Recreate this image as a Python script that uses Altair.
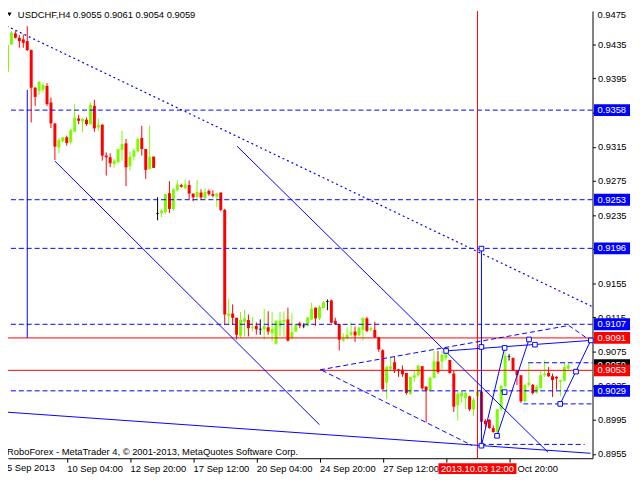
import altair as alt
import pandas as pd

symbol = "USDCHF,H4"

opens = [0.93953, 0.94031, 0.94350, 0.94478, 0.94428, 0.94408, 0.94389, 0.94284, 0.93842, 0.93805,
         0.93817, 0.93863, 0.93669, 0.93424, 0.93144, 0.93214, 0.93261, 0.93202, 0.93327, 0.93482,
         0.93447, 0.93467, 0.93416, 0.93630, 0.93377, 0.93408, 0.93047, 0.93027, 0.92949, 0.92969,
         0.93113, 0.93190, 0.92922, 0.93035, 0.93097, 0.93253, 0.93124, 0.92891, 0.93035, 0.92370,
         0.92373, 0.92384, 0.92606, 0.92422, 0.92641, 0.92702, 0.92664, 0.92702, 0.92602, 0.92564,
         0.92614, 0.92549, 0.92633, 0.92595, 0.92564, 0.92614, 0.92411, 0.91165, 0.91196, 0.91146,
         0.90936, 0.91100, 0.91120, 0.91031, 0.91051, 0.91012, 0.91012, 0.91035, 0.90966, 0.90844,
         0.91043, 0.91100, 0.91127, 0.90909, 0.90985, 0.91081, 0.91051, 0.91051, 0.91127, 0.91265,
         0.91139, 0.91261, 0.91338, 0.91349, 0.91108, 0.91073, 0.90878, 0.90909, 0.90947, 0.90985,
         0.90939, 0.91004, 0.91139, 0.91004, 0.91004, 0.90920, 0.90766, 0.90385, 0.90549, 0.90625,
         0.90541, 0.90538, 0.90499, 0.90252, 0.90446, 0.90473, 0.90579, 0.90340, 0.90294, 0.90442,
         0.90633, 0.90633, 0.90674, 0.90652, 0.90492, 0.90119, 0.90226, 0.90206, 0.90226, 0.90073,
         0.90226, 0.90283, 0.89940, 0.89952, 0.89853, 0.89807, 0.90073, 0.90347, 0.90690, 0.90674,
         0.90530, 0.90473, 0.90168, 0.90359, 0.90359, 0.90271, 0.90321, 0.90473, 0.90499, 0.90461,
         0.90454, 0.90397, 0.90408, 0.90550]
highs = [0.94147, 0.94350, 0.94505, 0.94505, 0.94459, 0.94466, 0.94564, 0.94291, 0.93852, 0.93922,
         0.93902, 0.93895, 0.93727, 0.93424, 0.93253, 0.93268, 0.93280, 0.93358, 0.93650, 0.93525,
         0.93486, 0.93494, 0.93669, 0.93700, 0.93482, 0.93416, 0.93085, 0.93074, 0.93008, 0.93124,
         0.93338, 0.93241, 0.93093, 0.93132, 0.93261, 0.93397, 0.93124, 0.93397, 0.93035, 0.92560,
         0.92422, 0.92602, 0.92748, 0.92664, 0.92756, 0.92717, 0.92767, 0.92756, 0.92602, 0.92760,
         0.92652, 0.92664, 0.92652, 0.92641, 0.92614, 0.92614, 0.92422, 0.91369, 0.91303, 0.91146,
         0.91215, 0.91235, 0.91185, 0.91158, 0.91093, 0.91127, 0.91254, 0.91223, 0.91215, 0.91120,
         0.91215, 0.91223, 0.91265, 0.91196, 0.91070, 0.91100, 0.91081, 0.91158, 0.91323, 0.91265,
         0.91292, 0.91338, 0.91361, 0.91361, 0.91146, 0.91073, 0.90966, 0.91035, 0.91093, 0.91043,
         0.91043, 0.91150, 0.91158, 0.91043, 0.91100, 0.90920, 0.90777, 0.90587, 0.90682, 0.90690,
         0.90549, 0.90587, 0.90499, 0.90454, 0.90530, 0.90595, 0.90579, 0.90340, 0.90454, 0.90758,
         0.90758, 0.90758, 0.90739, 0.90652, 0.90530, 0.90283, 0.90286, 0.90283, 0.90233, 0.90206,
         0.90302, 0.90283, 0.89959, 0.89959, 0.89883, 0.90081, 0.90359, 0.90804, 0.90720, 0.90682,
         0.90530, 0.90473, 0.90370, 0.90625, 0.90370, 0.90359, 0.90522, 0.90644, 0.90568, 0.90492,
         0.90461, 0.90423, 0.90625, 0.90610]
lows = [0.93603, 0.94019, 0.94342, 0.94420, 0.94311, 0.94311, 0.94272, 0.93436, 0.93630, 0.93758,
        0.93786, 0.93630, 0.93369, 0.92996, 0.93074, 0.93202, 0.93163, 0.93175, 0.93327, 0.93416,
        0.93319, 0.93397, 0.93408, 0.93327, 0.93338, 0.92988, 0.92813, 0.92910, 0.92903, 0.92961,
        0.92988, 0.92689, 0.92872, 0.92988, 0.93085, 0.93047, 0.92774, 0.92883, 0.92903, 0.92288,
        0.92327, 0.92365, 0.92373, 0.92403, 0.92625, 0.92671, 0.92652, 0.92537, 0.92511, 0.92518,
        0.92526, 0.92537, 0.92576, 0.92557, 0.92442, 0.92396, 0.91062, 0.91062, 0.91062, 0.90890,
        0.90909, 0.90928, 0.90928, 0.90985, 0.90947, 0.90947, 0.90890, 0.90947, 0.90870, 0.90832,
        0.90928, 0.90928, 0.90870, 0.90890, 0.90978, 0.91024, 0.91024, 0.91043, 0.91120, 0.91051,
        0.91120, 0.91254, 0.91235, 0.91081, 0.91062, 0.90763, 0.90863, 0.90890, 0.90928, 0.90863,
        0.90928, 0.90878, 0.90978, 0.90985, 0.90909, 0.90748, 0.90302, 0.90195, 0.90522, 0.90499,
        0.90454, 0.90454, 0.90245, 0.90245, 0.90397, 0.90454, 0.90302, 0.89921, 0.90283, 0.90435,
        0.90492, 0.90538, 0.90644, 0.90492, 0.90043, 0.89940, 0.90149, 0.90073, 0.90054, 0.89997,
        0.90073, 0.89826, 0.89864, 0.89845, 0.89799, 0.89799, 0.90054, 0.90321, 0.90644, 0.90522,
        0.90359, 0.90149, 0.90157, 0.90340, 0.90245, 0.90256, 0.90309, 0.90454, 0.90454, 0.90218,
        0.90302, 0.90226, 0.90397, 0.90540]
closes = [0.94031, 0.94342, 0.94490, 0.94428, 0.94389, 0.94369, 0.94284, 0.93842, 0.93735, 0.93910,
          0.93875, 0.93650, 0.93424, 0.93152, 0.93229, 0.93261, 0.93194, 0.93346, 0.93494, 0.93455,
          0.93478, 0.93416, 0.93642, 0.93366, 0.93408, 0.93047, 0.93027, 0.92957, 0.92988, 0.93124,
          0.93183, 0.92910, 0.93035, 0.93105, 0.93241, 0.93124, 0.92879, 0.93035, 0.92903, 0.92370,
          0.92403, 0.92595, 0.92422, 0.92652, 0.92710, 0.92683, 0.92710, 0.92602, 0.92557, 0.92622,
          0.92557, 0.92622, 0.92595, 0.92576, 0.92602, 0.92411, 0.91185, 0.91196, 0.91146, 0.90947,
          0.91120, 0.91139, 0.91024, 0.91043, 0.91012, 0.91012, 0.91051, 0.90985, 0.91016, 0.91108,
          0.91112, 0.91120, 0.90878, 0.90978, 0.91062, 0.91054, 0.91051, 0.91150, 0.91254, 0.91139,
          0.91273, 0.91330, 0.91338, 0.91089, 0.91073, 0.90890, 0.90901, 0.90947, 0.90978, 0.90939,
          0.91031, 0.91146, 0.90993, 0.91024, 0.90916, 0.90775, 0.90309, 0.90568, 0.90576, 0.90538,
          0.90522, 0.90484, 0.90264, 0.90454, 0.90473, 0.90587, 0.90321, 0.90294, 0.90442, 0.90636,
          0.90511, 0.90713, 0.90720, 0.90499, 0.90104, 0.90256, 0.90271, 0.90264, 0.90073, 0.90187,
          0.90283, 0.89929, 0.89902, 0.89853, 0.89807, 0.90073, 0.90347, 0.90701, 0.90690, 0.90530,
          0.90473, 0.90168, 0.90359, 0.90385, 0.90264, 0.90340, 0.90473, 0.90492, 0.90461, 0.90416,
          0.90435, 0.90416, 0.90568, 0.90590]

xtick_pos = [0, 16, 32, 48, 64, 80, 96, 112, 128]
xtick_labels = ["5 Sep 2013", "10 Sep 04:00", "12 Sep 20:00", "17 Sep 12:00", "20 Sep 04:00",
                "24 Sep 20:00", "27 Sep 12:00", "2 Oct 04:00", "4 Oct 20:00"]
ytick_values = [0.9475, 0.9435, 0.9395, 0.9355, 0.9315, 0.9275, 0.9235, 0.9195,
                0.9155, 0.9115, 0.9075, 0.9035, 0.8995, 0.8955]

blue_levels = [0.9358, 0.9253, 0.9196, 0.9107, 0.9029]
red_levels = [0.9091, 0.9053]
crosshair_bar = [120]
crosshair_label = ["2013.10.03 12:00"]

tag_prices = [0.9358, 0.9253, 0.9196, 0.9107, 0.9091, 0.9059, 0.9053, 0.9029]
tag_kinds = ["blue", "blue", "blue", "blue", "red", "black", "red", "blue"]

solid_x1 = [6, 13, 59.125, -0.375, 112.05, 121, 121, 124.95, 140.95]
solid_y1 = [0.93816, 0.92983, 0.93157, 0.90044, 0.90758, 0.91957, 0.89647, 0.89763, 0.90137]
solid_x2 = [6, 80, 137.875, 148.625, 148.7, 121, 126.875, 133.05, 148.7]
solid_y2 = [0.9091, 0.89893, 0.89570, 0.89558, 0.90881, 0.89647, 0.90793, 0.90892, 0.90881]

dashed_x1 = [80.125, 143.125, 80.625, 120.875, 132.875, 131.625]
dashed_y1 = [0.90536, 0.91056, 0.90530, 0.89662, 0.90619, 0.90137]
dashed_x2 = [143.125, 148.625, 118.625, 147.125, 149.125, 149.125]
dashed_y2 = [0.91056, 0.90877, 0.89650, 0.89662, 0.90619, 0.90137]

dotted_x1 = [-0.375]
dotted_y1 = [0.94591]
dotted_x2 = [149.125]
dotted_y2 = [0.91276]

square_x = [112.05, 121, 121, 124.95, 126.875, 126.875, 133.05, 134.55, 140.95, 144.95, 148.7, 121]
square_y = [0.90758, 0.90804, 0.89647, 0.89763, 0.90793, 0.90275, 0.90892, 0.90831, 0.90137,
            0.90515, 0.90881, 0.91957]

copyright_text = "RoboForex - MetaTrader 4, \u00a9 2001-2013, MetaQuotes Software Corp."

# ---------------------------------------------------------------------------
BLUE = "#0000FF"
RED = "#FF0000"
GREEN = "#7CFC00"
FONT = "Liberation Sans"
FS = 9.5
tag_colors = {"blue": BLUE, "red": RED, "black": "#000000"}

n = len(opens)
candles = pd.DataFrame({"i": list(range(n)), "o": opens, "h": highs, "l": lows, "c": closes})
candles["dir"] = ["up" if c > o else ("down" if c < o else "doji") for o, c in zip(opens, closes)]

X_DOMAIN = [1.125, 149.125]
Y_DOMAIN = [0.8950, 0.94742]
xs = alt.Scale(domain=X_DOMAIN, nice=False, zero=False, padding=0)
ys = alt.Scale(domain=Y_DOMAIN, nice=False, zero=False, padding=0)

label_expr = " : ".join(f"datum.value == {p} ? '{t}'" for p, t in zip(xtick_pos, xtick_labels)) + " : ''"

x_axis = alt.Axis(values=xtick_pos, labelExpr=label_expr, labelAlign="left", labelBaseline="top",
                  labelPadding=1, tickSize=4, tickColor="black", domainColor="black",
                  labelColor="black", labelFont=FONT, labelFontSize=FS, grid=False, title=None,
                  labelFlush=False, labelOverlap=False)
y_axis = alt.Axis(orient="right", values=ytick_values, format=".4f", tickSize=3, labelPadding=2,
                  tickColor="black", domainColor="black", labelColor="black", labelFont=FONT,
                  labelFontSize=FS, grid=False, title=None, labelFlush=False, labelOverlap=False)


def X(f):
    return alt.X(f, type="quantitative", scale=xs, axis=x_axis)


def Y(f):
    return alt.Y(f, type="quantitative", scale=ys, axis=y_axis)


layers = []
for d, col in [("up", GREEN), ("down", RED), ("doji", "#000000")]:
    sub = candles[candles["dir"] == d]
    layers.append(alt.Chart(sub).mark_rule(color=col, strokeWidth=1).encode(
        x=X("i"), y=Y("l"), y2="h"))
    if d != "doji":
        layers.append(alt.Chart(sub).mark_bar(size=3, color=col).encode(x=X("i"), y=Y("o"), y2="c"))
    else:
        layers.append(alt.Chart(sub).mark_tick(orient="horizontal", size=3, thickness=1,
                                               color="#000000").encode(x=X("i"), y=Y("o")))

layers.append(alt.Chart(pd.DataFrame({"p": blue_levels})).mark_rule(
    color=BLUE, strokeDash=[5, 3], strokeWidth=1).encode(y=Y("p")))
layers.append(alt.Chart(pd.DataFrame({"p": red_levels})).mark_rule(
    color=RED, strokeWidth=1).encode(y=Y("p")))
layers.append(alt.Chart(pd.DataFrame({"i": crosshair_bar})).mark_rule(
    color=RED, strokeWidth=1).encode(x=X("i")))

seg_solid = pd.DataFrame({"x": solid_x1, "y": solid_y1, "x2": solid_x2, "y2": solid_y2})
seg_dash = pd.DataFrame({"x": dashed_x1, "y": dashed_y1, "x2": dashed_x2, "y2": dashed_y2})
seg_dot = pd.DataFrame({"x": dotted_x1, "y": dotted_y1, "x2": dotted_x2, "y2": dotted_y2})
layers.append(alt.Chart(seg_solid).mark_rule(color=BLUE, strokeWidth=1).encode(
    x=X("x"), y=Y("y"), x2="x2", y2="y2"))
layers.append(alt.Chart(seg_dash).mark_rule(color=BLUE, strokeWidth=1, strokeDash=[5, 3]).encode(
    x=X("x"), y=Y("y"), x2="x2", y2="y2"))
layers.append(alt.Chart(seg_dot).mark_rule(color=BLUE, strokeWidth=1.2, strokeDash=[2, 3]).encode(
    x=X("x"), y=Y("y"), x2="x2", y2="y2"))
layers.append(alt.Chart(pd.DataFrame({"x": square_x, "y": square_y})).mark_point(
    shape="square", filled=True, fill="white", stroke=BLUE, strokeWidth=1, size=22, opacity=1
).encode(x=X("x"), y=Y("y")))

# tick labels lying just outside the visible range (the axis drops them):
# nudged just inside the page so they are not cut off
edge_y = [f"{v:.4f}" for v in ytick_values if v > Y_DOMAIN[1]]
layers.append(alt.Chart(pd.DataFrame({"label": edge_y})).mark_text(
    align="left", baseline="middle", color="black", font=FONT, fontSize=FS).encode(
    y=alt.value(4), x=alt.value(597), text="label:N"))
edge_x = [t for p, t in zip(xtick_pos, xtick_labels) if p < X_DOMAIN[0]]
layers.append(alt.Chart(pd.DataFrame({"t": edge_x})).mark_text(
    align="left", baseline="top", color="black", font=FONT, fontSize=FS).encode(
    x=alt.value(-1), y=alt.value(458), text="t:N"))

# price tags on the right axis
for p, k in zip(tag_prices, tag_kinds):
    df = pd.DataFrame({"p": [p], "label": [f"{p:.4f}"]})
    layers.append(alt.Chart(df).mark_rule(color=tag_colors[k], strokeWidth=12, strokeCap="butt").encode(
        y=Y("p"), x=alt.value(593.5), x2=alt.value(630)))
    layers.append(alt.Chart(df).mark_text(align="left", baseline="middle", color="white",
                                          font=FONT, fontSize=FS).encode(
        y=Y("p"), x=alt.value(597), text="label:N"))

# crosshair date tag
ch = pd.DataFrame({"i": crosshair_bar, "t": crosshair_label})
layers.append(alt.Chart(ch).mark_rule(color=RED, strokeWidth=79).encode(
    x=X("i"), y=alt.value(458), y2=alt.value(469)))
layers.append(alt.Chart(ch).mark_text(align="center", baseline="middle", color="white",
                                      font=FONT, fontSize=FS).encode(
    x=X("i"), y=alt.value(463.5), text="t:N"))

# header and footer texts
header = f"{symbol}  {opens[-1]:.4f} {highs[-1]:.4f} {lows[-1]:.4f} {closes[-1]:.4f}"
layers.append(alt.Chart(pd.DataFrame({"t": [header]})).mark_text(
    align="left", baseline="middle", color="black", font=FONT, fontSize=FS).encode(
    x=alt.value(10), y=alt.value(4), text="t:N"))
layers.append(alt.Chart(pd.DataFrame({"t": ["v"]})).mark_point(
    shape="triangle-down", filled=True, color="black", size=18, opacity=1).encode(
    x=alt.value(1.5), y=alt.value(3.5)))
layers.append(alt.Chart(pd.DataFrame({"t": [copyright_text]})).mark_text(
    align="left", baseline="middle", color="black", font=FONT, fontSize=FS).encode(
    x=alt.value(-1), y=alt.value(447), text="t:N"))

chart = alt.layer(*layers).properties(
    width=592, height=453,
    autosize=alt.AutoSizeParams(type="none"),
    padding={"left": 0, "top": 0, "right": 40, "bottom": 17},
    background="white",
).configure_view(strokeWidth=0)

chart.save("out.html", embed_options={"renderer": "svg", "actions": False})
